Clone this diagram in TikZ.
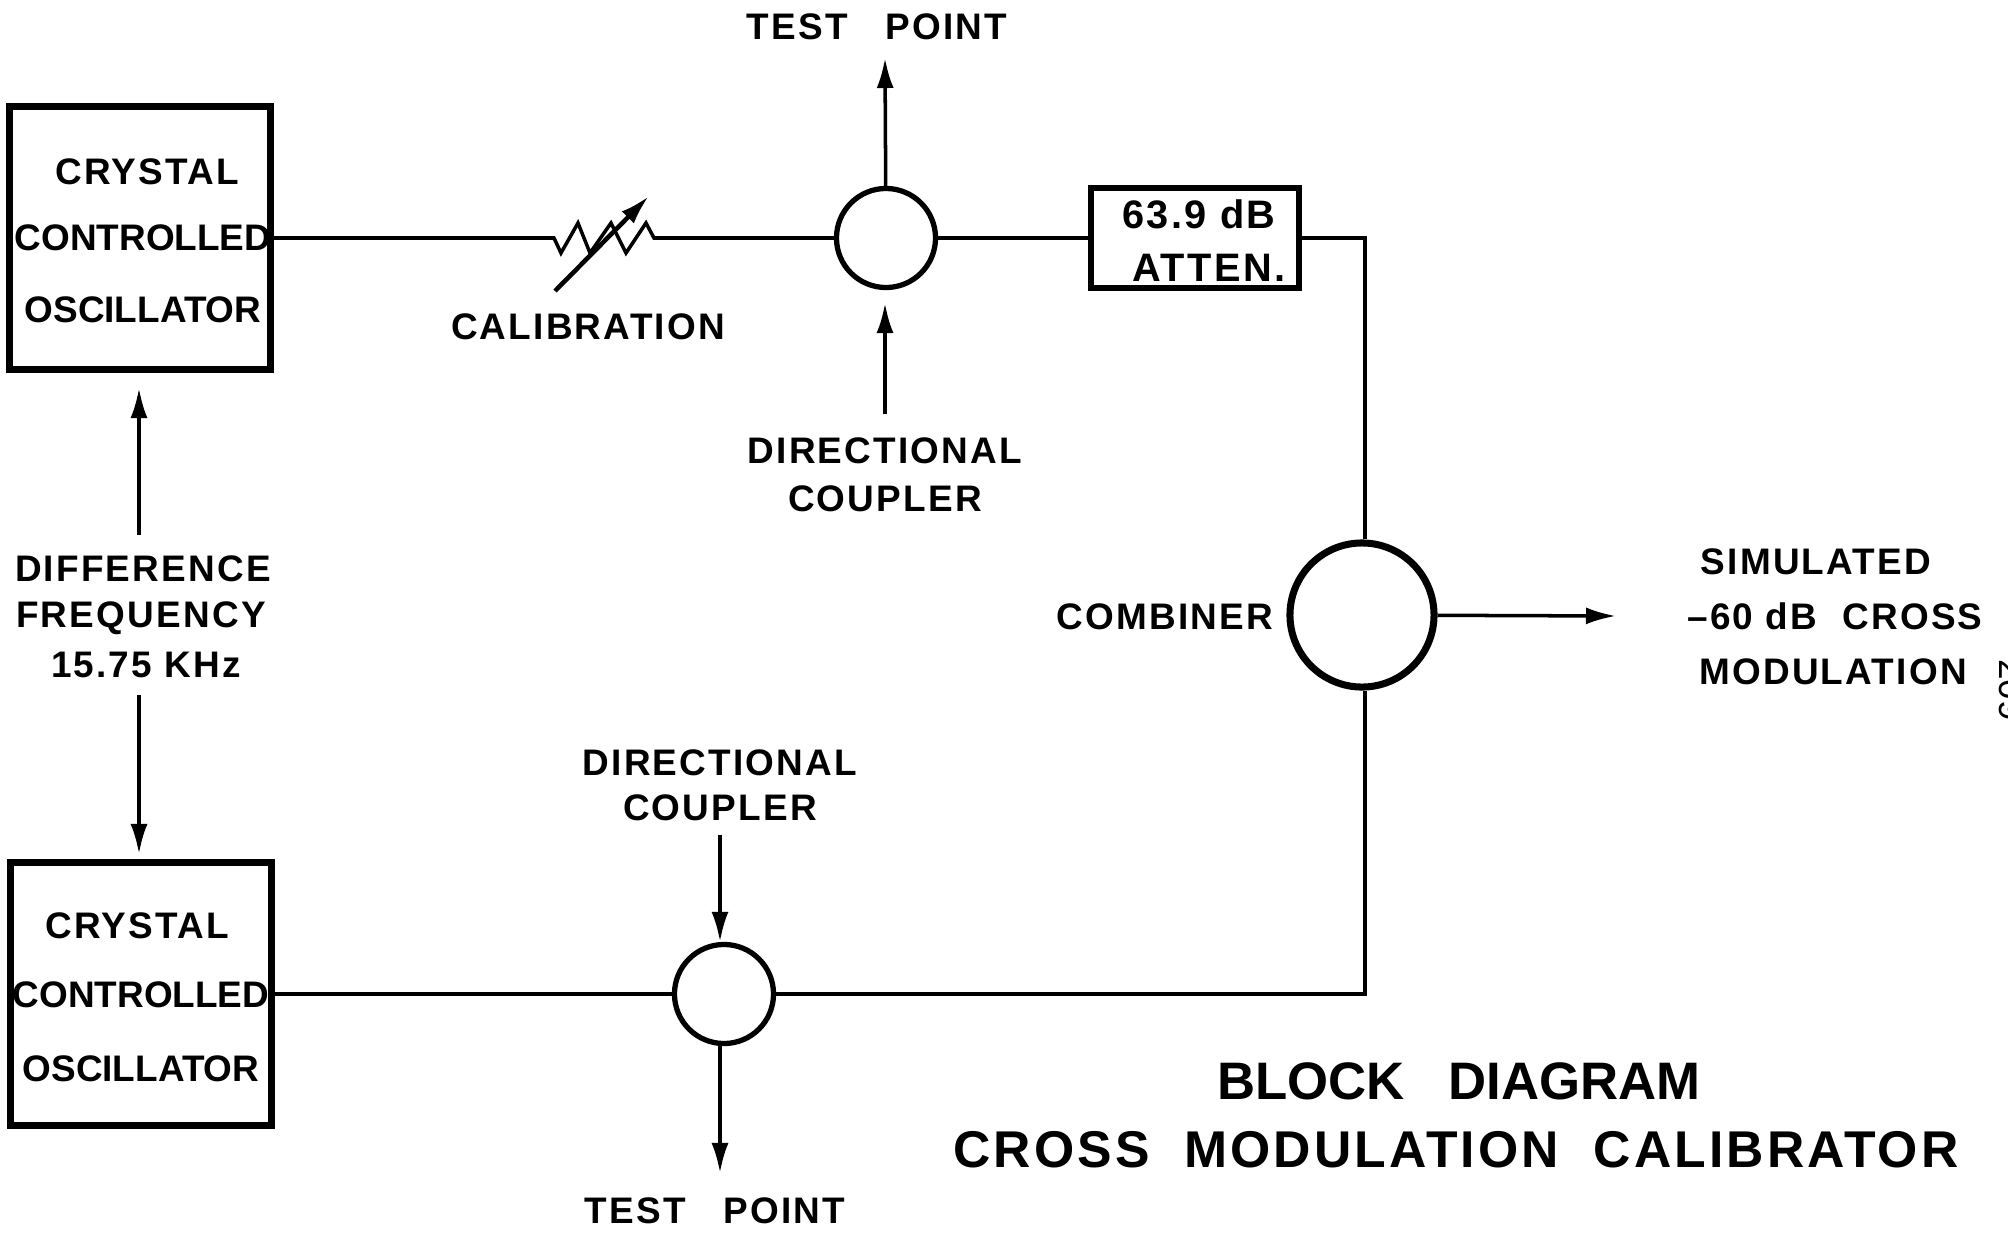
\documentclass[tikz,border=0pt]{standalone}
\usepackage{fontspec}
\setmainfont{Liberation Sans}
\newfontfamily\widefont[LetterSpace=6]{Liberation Sans}
\usetikzlibrary{arrows.meta,positioning}
\tikzset{
  oscbox/.style={draw,line width=1.9pt,minimum width=2.61cm,minimum height=2.63cm,inner sep=0pt},
  attenbox/.style={draw,line width=1.5pt,minimum width=2.08cm,minimum height=1.0cm,inner sep=0pt},
  coupler/.style={draw,circle,line width=1.5pt,minimum size=0.99cm,inner sep=0pt},
  combiner/.style={draw,circle,line width=2pt,minimum size=1.44cm,inner sep=0pt},
  lbl/.style={inner sep=0pt,font=\fontsize{10.5}{12}\widefont\bfseries},
  tightlbl/.style={inner sep=0pt,font=\fontsize{10.5}{12}\selectfont\bfseries},
  attenlbl/.style={inner sep=0pt,font=\fontsize{11.3}{12}\widefont\bfseries},
  biglbl/.style={inner sep=0pt,font=\fontsize{14.7}{18}\widefont\bfseries},
  headlbl/.style={inner sep=0pt,font=\fontsize{15}{18}\selectfont\bfseries},
  wire/.style={line width=1pt},
  sigArrow/.style={-{Latex[length=3mm,width=1.7mm]},line width=1pt}
}

\begin{document}
\begin{tikzpicture}[x=0.01cm,y=-0.01cm]
  \useasboundingbox (0,0) rectangle (2008,1236);
  % blocks
  \node[oscbox] (oscA) at (140,238) {};
  \node[oscbox] (oscB) at (141,994) {};
  \node[attenbox] (atten) at (1195,238) {};
  \node[coupler] (cplA) at (886,238) {};
  \node[coupler] (cplB) at (724,994) {};
  \node[combiner] (comb) at (1362,615) {};
  % free ends
  \coordinate (testA) at (885,58);
  \coordinate (dirA) at (885,414);
  \coordinate (dirAend) at (885,303);
  \coordinate (testB) at (720,1173);
  \coordinate (dirB) at (720,835);
  \coordinate (out) at (1616,616);
  \coordinate (diffUp) at (139,535);
  \coordinate (diffDn) at (139,695);
  \coordinate (oscAin) at (139,388);
  \coordinate (oscBin) at (139,854);
  \coordinate (calL) at (554,238);
  \coordinate (calR) at (654,238);
  \coordinate (calS) at (555,291);
  \coordinate (calE) at (649,196);
  \coordinate (bendA) at (1365,238);
  \coordinate (bendB) at (1365,994);
  % labels
  \foreach \x/\y/\t/\n in {
    147/172/CRYSTAL/a,137/926/CRYSTAL/d,
    877/27/TEST\ \ \ POINT/g,715/1211/TEST\ \ \ POINT/h,
    588/327/CALIBRATION/i,885/451/DIRECTIONAL/j,885/499/COUPLER/k,
    720/763/DIRECTIONAL/l,720/808/COUPLER/m,
    143/569/DIFFERENCE/p,141/618/FREQUENCY/q,146/665/15.75 KHz/r,
    1165/617/COMBINER/s,1816/562/SIMULATED/t,
    1835/616/{–60 dB\ \ CROSS}/u,1833/672/MODULATION/v}
    \node[lbl] (lbl\n) at (\x,\y) {\t};
  \foreach \x/\y/\t/\n in {
    143/238/CONTROLLED/b,143/310/OSCILLATOR/c,
    141/995/CONTROLLED/e,141/1069/OSCILLATOR/f}
    \node[tightlbl] (lbl\n) at (\x,\y) {\t};
  \node[attenlbl] (lbln) at (1199,214) {63.9 dB};
  \node[attenlbl] (lblo) at (1209,268) {ATTEN.};
  \node[headlbl] (titleA) at (1459,1081) {BLOCK\ \ \ DIAGRAM};
  \node[biglbl] (titleB) at (1456,1150) {CROSS\ \ MODULATION\ \ CALIBRATOR};
  \node[inner sep=0pt,anchor=base,rotate=-90,font=\fontsize{10.5}{12}\selectfont] (page) at (1999,690) {209};
  % connectors
  \draw[wire] (oscA) -- (calL) -- (561,253) -- (578,223) -- (590,253) -- (611,223)
    -- (626,253) -- (646,223) -- (calR) -- (cplA);
  \draw[wire] (cplA) -- (atten);
  \draw[wire] (atten.east |- bendA) -- (bendA) -- (comb.north -| bendA);
  \draw[wire] (oscB) -- (cplB);
  \draw[wire] (cplB) -- (bendB) -- (comb.south -| bendB);
  \draw[-{Latex[length=3mm,width=1.7mm]},line width=1.3pt] (calS) -- (calE);
  \draw[sigArrow] (cplA) -- (testA);
  \draw[sigArrow] (dirA) -- (dirAend);
  \draw[sigArrow] (dirB) -- (dirB |- cplB.north);
  \draw[sigArrow] (cplB.south -| testB) -- (testB);
  \draw[sigArrow] (comb) -- (out);
  \draw[sigArrow] (diffUp) -- (oscAin);
  \draw[sigArrow] (diffDn) -- (oscBin);
\end{tikzpicture}
\end{document}
